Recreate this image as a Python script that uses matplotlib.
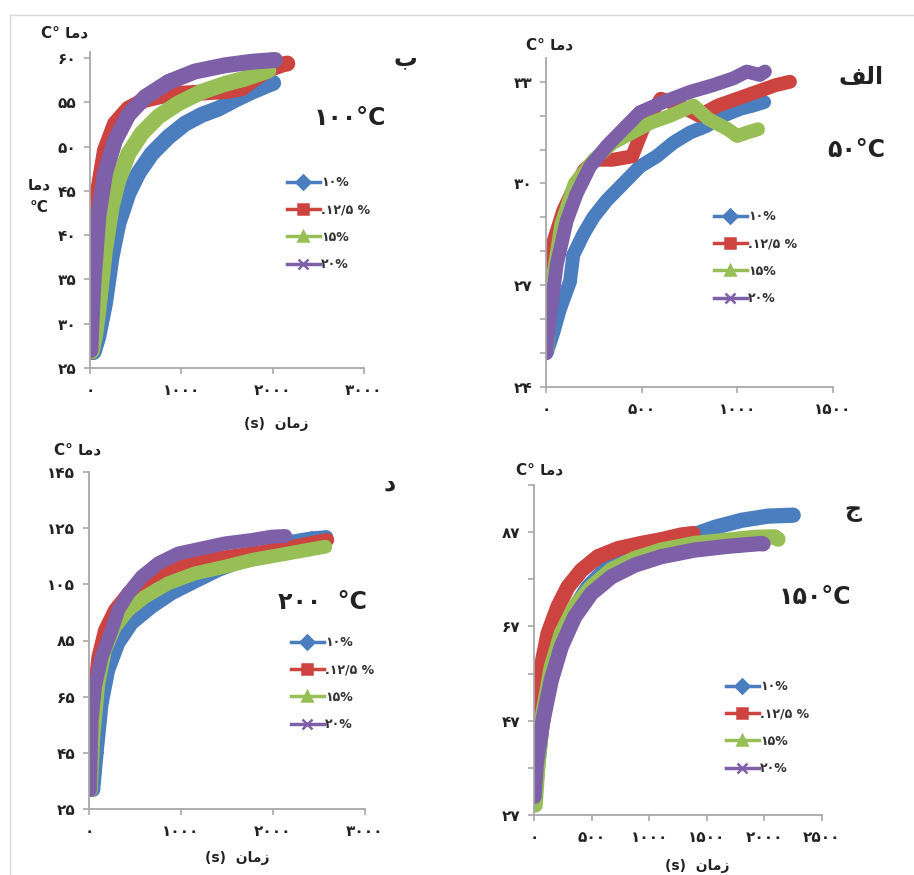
import numpy as np
import matplotlib.pyplot as plt
from matplotlib.lines import Line2D

# Persian words, already shaped (presentation forms) and in visual order,
# since matplotlib does no RTL shaping
DAMA = '\uFE8E\uFEE3\uFEA9'          # دما
ZAMAN = '\uFEE5\uFE8E\uFEE3\uFEAF'   # زمان
ALEF = '\uFED2\uFEDF\uFE8D'          # الف
BE, DAL, JIM = '\uFE8F', '\uFEA9', '\uFE9D'

legend_labels = ['۱۰%', '.۱۲/۵ %', '۱۵%', '۲۰%']

# --- panel الف : 50 C ---
a_blue_t = [3, 38, 73, 125, 143, 195, 247, 317, 404, 491, 578, 665, 752, 840, 927, 1014, 1083, 1140]
a_blue_T = [25.0, 25.6, 26.3, 27.1, 27.9, 28.5, 29.0, 29.5, 30.0, 30.5, 30.8, 31.2, 31.5, 31.7, 32.0, 32.2, 32.3, 32.4]
a_red_t = [0, 20, 40, 90, 140, 200, 260, 350, 450, 520, 600, 700, 800, 900, 1000, 1100, 1200, 1275]
a_red_T = [25.2, 27.3, 28.3, 29.2, 29.8, 30.4, 30.7, 30.7, 30.8, 31.8, 32.5, 32.3, 32.0, 32.3, 32.5, 32.7, 32.9, 33.0]
a_green_t = [5, 30, 80, 150, 250, 350, 450, 550, 650, 770, 850, 950, 1000, 1050, 1108]
a_green_T = [25.1, 27.0, 28.8, 30.0, 30.7, 31.2, 31.5, 31.8, 32.0, 32.3, 31.9, 31.6, 31.4, 31.5, 31.6]
a_purple_t = [0, 21, 56, 108, 160, 230, 317, 404, 491, 613, 752, 874, 979, 1049, 1118, 1144]
a_purple_T = [25.0, 26.1, 27.6, 28.9, 29.7, 30.5, 31.1, 31.6, 32.1, 32.4, 32.7, 32.9, 33.1, 33.3, 33.2, 33.3]

# --- panel ب : 100 C ---
b_blue_t = [40, 90, 164, 237, 310, 420, 529, 675, 858, 1040, 1223, 1405, 1588, 1770, 1953, 2005]
b_blue_T = [26.8, 28.5, 32.3, 37.6, 41.3, 44.7, 47.0, 49.2, 51.1, 52.6, 53.6, 54.3, 55.3, 56.2, 57.0, 57.2]
b_red_t = [5, 20, 37, 91, 164, 274, 420, 602, 850, 1200, 1500, 1660, 1830, 1975, 2110, 2160]
b_red_T = [26.8, 33.0, 38.3, 45.1, 49.6, 52.6, 54.3, 55.3, 55.9, 56.1, 56.3, 56.6, 57.9, 58.8, 59.3, 59.4]
b_green_t = [20, 60, 91, 164, 237, 310, 420, 566, 748, 967, 1223, 1478, 1697, 1953]
b_green_T = [26.9, 29.0, 31.5, 38.3, 43.2, 46.2, 49.2, 51.5, 53.4, 54.9, 56.2, 57.1, 57.7, 58.6]
b_purple_t = [5, 20, 37, 91, 164, 274, 420, 602, 858, 1150, 1478, 1770, 2026]
b_purple_T = [27.0, 31.0, 34.6, 42.1, 47.0, 50.7, 53.6, 55.6, 57.3, 58.5, 59.2, 59.6, 59.8]

# --- panel ج : 150 C ---
c_blue_t = [5, 20, 64, 122, 208, 324, 469, 642, 816, 1048, 1221, 1395, 1568, 1800, 2032, 2250]
c_blue_T = [30.0, 34.4, 45.0, 54.2, 62.7, 69.8, 75.4, 79.6, 81.8, 83.5, 85.2, 86.5, 88.0, 89.5, 90.4, 90.6]
c_red_t = [0, 6, 64, 122, 208, 295, 411, 556, 729, 932, 1105, 1279, 1380]
c_red_T = [31.6, 48.6, 58.4, 65.5, 71.2, 75.4, 78.9, 81.8, 83.5, 84.6, 85.4, 86.4, 86.7]
c_green_t = [10, 35, 78, 150, 237, 353, 498, 671, 874, 1105, 1395, 1684, 1916, 2089, 2118]
c_green_T = [29.1, 38.0, 48.6, 58.4, 65.5, 71.2, 75.4, 79.0, 81.4, 83.2, 84.6, 85.3, 85.9, 86.0, 85.5]
c_purple_t = [0, 20, 78, 150, 237, 353, 498, 671, 874, 1105, 1395, 1684, 1974, 1988]
c_purple_T = [30.9, 38.0, 47.1, 55.6, 62.7, 69.0, 74.0, 77.5, 80.0, 81.8, 83.2, 84.0, 84.6, 84.5]

# --- panel د : 200 C ---
d_blue_t = [47, 83, 138, 210, 319, 464, 682, 900, 1117, 1407, 1697, 1988, 2205, 2423, 2580]
d_blue_T = [31.8, 44.8, 62.6, 74.5, 84.0, 91.1, 97.0, 101.8, 105.4, 110.1, 113.7, 117.2, 120.2, 121.4, 121.8]
d_red_t = [20, 47, 102, 174, 283, 428, 682, 1044, 1407, 1770, 2133, 2495, 2590]
d_red_T = [31.8, 62.6, 79.2, 88.7, 95.9, 101.8, 107.7, 111.9, 114.3, 116.0, 117.8, 120.2, 120.8]
d_green_t = [20, 47, 102, 174, 283, 428, 609, 863, 1153, 1480, 1770, 2060, 2314, 2568]
d_green_T = [31.8, 50.8, 69.7, 81.6, 89.9, 95.9, 100.6, 105.4, 108.9, 111.3, 113.7, 115.4, 116.9, 118.4]
d_purple_t = [10, 29, 65, 138, 247, 319, 428, 573, 754, 972, 1226, 1480, 1770, 1988, 2133]
d_purple_T = [31.8, 56.7, 68.6, 79.2, 88.7, 95.9, 101.8, 107.7, 112.5, 116.0, 117.8, 119.6, 120.8, 122.0, 122.2]

colors = ['#4a7ebf', '#cc4340', '#98bf55', '#7e60a8']
markers = ['D', 's', '^', 'x']

W, H = 914, 875
plt.rcParams['font.family'] = ['DejaVu Sans']
fig = plt.figure(figsize=(W / 100, H / 100), dpi=100)


def fa(n):
    return str(n).translate(str.maketrans('0123456789', '۰۱۲۳۴۵۶۷۸۹'))


def rect(l, t, r, b):
    return [l / W, 1 - b / H, (r - l) / W, (b - t) / H]


def px(x, y):
    return x / W, 1 - y / H


def panel(box, series, xlim, ylim, xticks, yticks, yminor, leg_xy, lw):
    ax = fig.add_axes(rect(*box))
    for (t, T), c, m in zip(series, colors, markers):
        ax.plot(t, T, color=c, lw=lw, solid_joinstyle='round', solid_capstyle='round')
        ax.plot(t, T, ls='none', marker=m, ms=6, color=c, mew=1.5)
    ax.set_xlim(*xlim)
    ax.set_ylim(*ylim)
    ax.set_xticks(xticks)
    ax.set_xticklabels([fa(v) for v in xticks])
    ax.set_yticks(yticks)
    ax.set_yticklabels([fa(v) for v in yticks])
    if yminor:
        ax.set_yticks(yminor, minor=True)
    for s in ['top', 'right']:
        ax.spines[s].set_visible(False)
    for s in ['left', 'bottom']:
        ax.spines[s].set_color('#a8a8a8')
        ax.spines[s].set_linewidth(1.3)
    ax.tick_params(which='both', direction='out', length=4, width=1.2, color='#a8a8a8',
                   labelsize=11, labelcolor='#222222')
    ax.tick_params(axis='x', pad=7)
    ax.tick_params(axis='y', pad=6)
    for lab in ax.get_xticklabels() + ax.get_yticklabels():
        lab.set_fontweight('bold')
    handles = [Line2D([], [], color=c, lw=2.5, marker=m, ms=7, mew=1.8) for c, m in zip(colors, markers)]
    ax.legend(handles, legend_labels, loc='upper left', bbox_to_anchor=px(*leg_xy),
              bbox_transform=fig.transFigure, frameon=False, borderpad=0, borderaxespad=0,
              handlelength=2.6, handletextpad=0.1, labelspacing=1.15,
              prop={'size': 9, 'weight': 'bold'}, labelcolor='#333333')
    return ax


panel((546, 58, 833, 387),
      [(a_blue_t, a_blue_T), (a_red_t, a_red_T), (a_green_t, a_green_T), (a_purple_t, a_purple_T)],
      (0, 1500), (24, 33.7), [0, 500, 1000, 1500], [24, 27, 30, 33], list(range(24, 34)),
      (714, 210), 10)

panel((90, 52, 364, 368),
      [(b_blue_t, b_blue_T), (b_red_t, b_red_T), (b_green_t, b_green_T), (b_purple_t, b_purple_T)],
      (0, 3000), (25, 60.7), [0, 1000, 2000, 3000], list(range(25, 61, 5)), None,
      (287, 176), 11.5)

panel((534, 485, 822, 815),
      [(c_blue_t, c_blue_T), (c_red_t, c_red_T), (c_green_t, c_green_T), (c_purple_t, c_purple_T)],
      (0, 2500), (27, 97), [0, 500, 1000, 1500, 2000, 2500], [27, 47, 67, 87], list(range(27, 98, 10)),
      (726, 680), 11)

panel((89, 472, 365, 809),
      [(d_blue_t, d_blue_T), (d_red_t, d_red_T), (d_green_t, d_green_T), (d_purple_t, d_purple_T)],
      (0, 3000), (25, 145), [0, 1000, 2000, 3000], list(range(25, 146, 20)), None,
      (291, 636), 10)

# texts
tk = dict(fontweight='bold', color='#222222', ha='center', va='center')
ylab = 'C° ' + DAMA
for x, y in [(65, 33), (550, 45), (78, 450), (540, 470)]:
    fig.text(*px(x, y), ylab, fontsize=11, **tk)
fig.text(*px(39, 185), DAMA, fontsize=11, **tk)
fig.text(*px(39, 207), '°C', fontsize=11, **tk)

xlab = '(s)  ' + ZAMAN
for x, y in [(276, 424), (237, 858), (697, 866)]:
    fig.text(*px(x, y), xlab, fontsize=10, **tk)

fig.text(*px(405, 58), BE, fontsize=17, **tk)
fig.text(*px(861, 77), ALEF, fontsize=17, **tk)
fig.text(*px(390, 483), DAL, fontsize=17, **tk)
fig.text(*px(853, 510), JIM, fontsize=17, **tk)

fig.text(*px(350, 118), '۱۰۰°C', fontsize=17, **tk)
fig.text(*px(856, 150), '۵۰°C', fontsize=17, **tk)
fig.text(*px(322, 602), '۲۰۰  °C', fontsize=17, **tk)
fig.text(*px(815, 597), '۱۵۰°C', fontsize=17, **tk)

# thin frame lines of the original page
fig.add_artist(Line2D([10 / W, 1], [1 - 15 / H] * 2, transform=fig.transFigure, color='#d8d8d8', lw=1))
fig.add_artist(Line2D([10 / W] * 2, [0, 1 - 15 / H], transform=fig.transFigure, color='#d8d8d8', lw=1))

fig.savefig('out.png', dpi=100)
